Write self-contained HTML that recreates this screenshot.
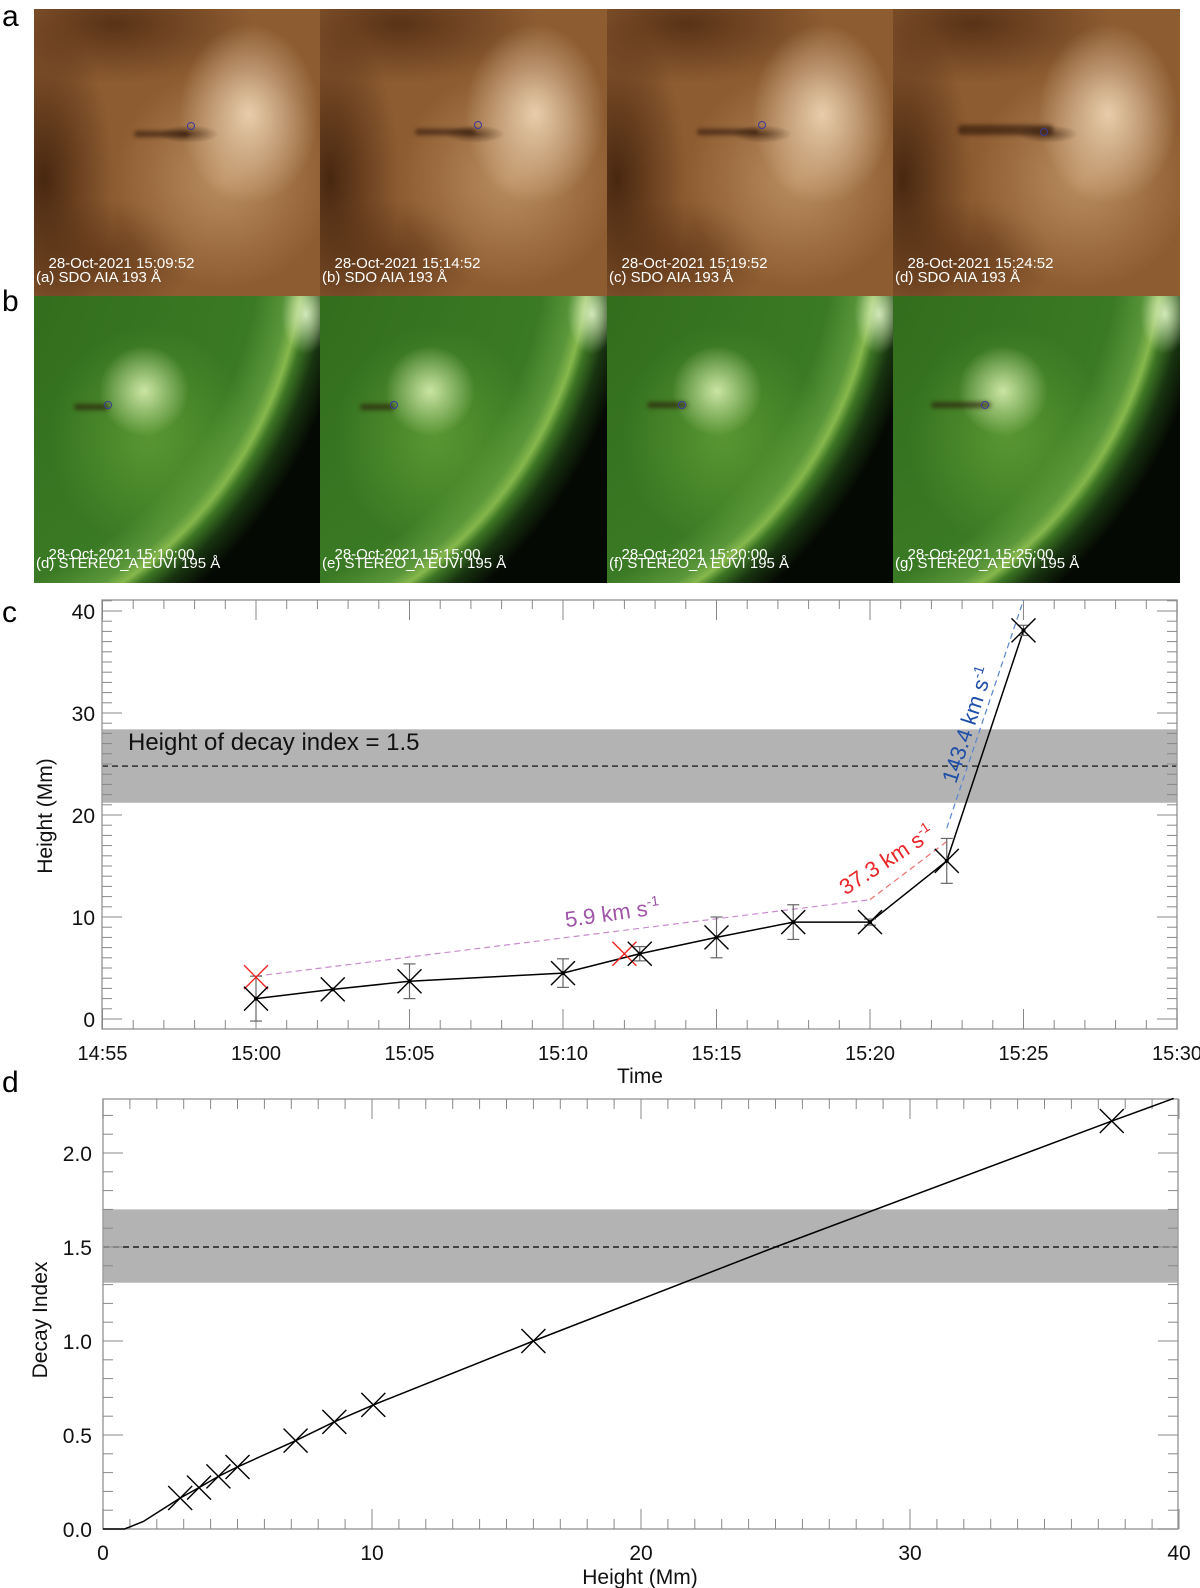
<!DOCTYPE html>
<html><head><meta charset="utf-8">
<style>
html,body{margin:0;padding:0;background:#fff;}
body{width:1200px;height:1588px;position:relative;overflow:hidden;font-family:"Liberation Sans",sans-serif;}
.pan{position:absolute;width:287px;height:287px;overflow:hidden;}
.brown{background:
 radial-gradient(ellipse 30px 9px at 155px 125px, rgba(50,25,8,0.6), rgba(50,25,8,0) 100%),
 radial-gradient(ellipse 70px 90px at 215px 105px, rgba(245,222,190,0.85), rgba(245,222,190,0) 100%),
 radial-gradient(ellipse 110px 110px at 190px 170px, rgba(215,175,128,0.6), rgba(215,175,128,0) 100%),
 radial-gradient(ellipse 70px 160px at 10px 170px, rgba(60,30,10,0.85), rgba(60,30,10,0) 100%),
 radial-gradient(ellipse 140px 60px at 80px 15px, rgba(70,36,14,0.75), rgba(70,36,14,0) 100%),
 radial-gradient(ellipse 90px 60px at 70px 250px, rgba(80,42,16,0.6), rgba(80,42,16,0) 100%),
 #8e5c31;}
.green{background:
 radial-gradient(ellipse 45px 45px at 110px 95px, rgba(225,245,185,0.85), rgba(225,245,185,0) 100%),
 radial-gradient(ellipse 100px 110px at 115px 140px, rgba(110,170,60,0.6), rgba(110,170,60,0) 100%),
 radial-gradient(ellipse 25px 40px at 272px 18px, rgba(235,250,210,0.85), rgba(235,250,210,0) 100%),
 radial-gradient(circle 470px at -150px -60px, #2c6418 0, #3b7a24 80%, #5a963a 87%, #86b84c 89.5%, #3d7624 91.5%, #183410 95%, #050903 100%);}
.lbl{position:absolute;left:2px;color:#fff;font-size:15px;line-height:14px;white-space:nowrap;}
.circ{position:absolute;width:6px;height:6px;border:1.5px solid #3a3a9a;border-radius:50%;}
.fil{position:absolute;height:6px;background:rgba(40,18,6,0.6);border-radius:4px;filter:blur(2px);}
.letter{position:absolute;left:2px;font-size:30px;color:#000;}
</style></head>
<body>
<div class="letter" style="top:0px">a</div>
<div class="letter" style="top:285px">b</div>
<div class="letter" style="top:596px">c</div>
<div class="letter" style="top:1066px">d</div>

<!-- Row a -->
<div class="pan brown" style="left:34px;top:9px">
 <div class="fil" style="left:100px;top:122px;width:55px"></div>
 <div class="circ" style="left:153px;top:113px"></div>
 <div class="lbl" style="top:248px">&nbsp;&nbsp;&nbsp;28-Oct-2021 15:09:52</div>
 <div class="lbl" style="top:262px">(a) SDO AIA 193 Å</div>
</div>
<div class="pan brown" style="left:320px;top:9px">
 <div class="fil" style="left:95px;top:120px;width:60px"></div>
 <div class="circ" style="left:154px;top:112px"></div>
 <div class="lbl" style="top:248px">&nbsp;&nbsp;&nbsp;28-Oct-2021 15:14:52</div>
 <div class="lbl" style="top:262px">(b) SDO AIA 193 Å</div>
</div>
<div class="pan brown" style="left:607px;top:9px">
 <div class="fil" style="left:90px;top:120px;width:62px"></div>
 <div class="circ" style="left:151px;top:112px"></div>
 <div class="lbl" style="top:248px">&nbsp;&nbsp;&nbsp;28-Oct-2021 15:19:52</div>
 <div class="lbl" style="top:262px">(c) SDO AIA 193 Å</div>
</div>
<div class="pan brown" style="left:893px;top:9px">
 <div class="fil" style="left:65px;top:116px;width:95px;height:10px"></div>
 <div class="circ" style="left:147px;top:119px"></div>
 <div class="lbl" style="top:248px">&nbsp;&nbsp;&nbsp;28-Oct-2021 15:24:52</div>
 <div class="lbl" style="top:262px">(d) SDO AIA 193 Å</div>
</div>

<!-- Row b -->
<div class="pan green" style="left:34px;top:296px">
 <div class="fil" style="left:40px;top:108px;width:35px"></div>
 <div class="circ" style="left:70px;top:105px"></div>
 <div class="lbl" style="top:252px">&nbsp;&nbsp;&nbsp;28-Oct-2021 15:10:00</div>
 <div class="lbl" style="top:261px">(d) STEREO_A EUVI 195 Å</div>
</div>
<div class="pan green" style="left:320px;top:296px">
 <div class="fil" style="left:40px;top:108px;width:35px"></div>
 <div class="circ" style="left:70px;top:105px"></div>
 <div class="lbl" style="top:252px">&nbsp;&nbsp;&nbsp;28-Oct-2021 15:15:00</div>
 <div class="lbl" style="top:261px">(e) STEREO_A EUVI 195 Å</div>
</div>
<div class="pan green" style="left:607px;top:296px">
 <div class="fil" style="left:40px;top:106px;width:40px"></div>
 <div class="circ" style="left:71px;top:105px"></div>
 <div class="lbl" style="top:252px">&nbsp;&nbsp;&nbsp;28-Oct-2021 15:20:00</div>
 <div class="lbl" style="top:261px">(f) STEREO_A EUVI 195 Å</div>
</div>
<div class="pan green" style="left:893px;top:296px">
 <div class="fil" style="left:38px;top:106px;width:60px"></div>
 <div class="circ" style="left:88px;top:105px"></div>
 <div class="lbl" style="top:252px">&nbsp;&nbsp;&nbsp;28-Oct-2021 15:25:00</div>
 <div class="lbl" style="top:261px">(g) STEREO_A EUVI 195 Å</div>
</div>

<svg id="charts" width="1200" height="1588" style="position:absolute;left:0;top:0" xmlns="http://www.w3.org/2000/svg" font-family="Liberation Sans, sans-serif">
</svg>

<script>
// ---------- Panel c data ----------
const cTimes = [0, 2.5, 5, 10, 12.5, 15, 17.5, 20, 22.5, 25];
const cHeights = [2.0, 2.9, 3.7, 4.5, 6.4, 8.0, 9.5, 9.5, 15.5, 38.1];
const cErrors = [2.2, 0, 1.7, 1.4, 0.7, 2.0, 1.7, 0.3, 2.2, 0.5];
const cRedTimes = [0, 12];
const cRedHeights = [4.1, 6.4];
const cFitPurpleT = [0, 20];
const cFitPurpleH = [4.2, 11.7];
const cFitRedT = [20, 22.5];
const cFitRedH = [11.7, 17.4];
const cFitBlueT = [22.5, 25];
const cFitBlueH = [18.7, 41.1];
const cBand = [21.2, 28.4];
const cBandMid = 24.8;
const cXTickLabels = ['14:55','15:00','15:05','15:10','15:15','15:20','15:25','15:30'];
const cXTickVals = [-5, 0, 5, 10, 15, 20, 25, 30];
const cYTickVals = [0, 10, 20, 30, 40];

// ---------- Panel d data ----------
const dHeights = [2.87, 3.57, 4.29, 5.0, 7.16, 8.6, 10.05, 16.0, 37.5];
const dIndex = [0.165, 0.22, 0.28, 0.33, 0.47, 0.57, 0.66, 1.0, 2.17];
const dCurveH = [0, 0.8, 1.5, 2.87, 3.57, 4.29, 5.0, 7.16, 8.6, 10.05, 16.0, 25.0, 37.5, 39.8];
const dCurveN = [0, 0, 0.04, 0.165, 0.22, 0.28, 0.33, 0.47, 0.57, 0.66, 1.0, 1.5, 2.17, 2.29];
const dBand = [1.31, 1.70];
const dBandMid = 1.5;
const dXTickVals = [0, 10, 20, 30, 40];
const dYTickVals = [0.0, 0.5, 1.0, 1.5, 2.0];
const dYTickLabels = ['0.0', '0.5', '1.0', '1.5', '2.0'];

const NS = 'http://www.w3.org/2000/svg';
const svg = document.getElementById('charts');
function mk(tag, attrs, parent) {
  const e = document.createElementNS(NS, tag);
  for (const k in attrs) e.setAttribute(k, attrs[k]);
  (parent || svg).appendChild(e);
  return e;
}

const CX0 = 102, CX1 = 1177, CY0 = 600, CY1 = 1029;
const xc = t => 256 + t * 30.7;
const yc = h => 1019 - h * 10.2;
const DX0 = 103, DX1 = 1178, DY0 = 1099, DY1 = 1529;
const xd = h => 103 + h * 26.9;
const yd = v => 1529 - v * 188;

// ================= Panel C =================
const gc = mk('g', {});


const bandC = mk('rect', {x: CX0, y: yc(cBand[1]), width: CX1 - CX0, height: yc(cBand[0]) - yc(cBand[1]), fill: '#b3b3b4'}, gc);


const midC = mk('line', {x1: CX0, x2: CX1, y1: yc(cBandMid), y2: yc(cBandMid), stroke: '#000', 'stroke-width': 1.2, 'stroke-dasharray': '6,4'}, gc);


const frC = mk('rect', {x: CX0, y: CY0, width: CX1 - CX0, height: CY1 - CY0, fill: 'none', stroke: '#a0a0a0', 'stroke-width': 1.5}, gc);


for (let m = -5; m <= 30; m++) {
  const major = m % 5 === 0;
  const L = major ? 20 : 9;
  mk('line', {x1: xc(m), x2: xc(m), y1: CY1, y2: CY1 - L, stroke: '#888', 'stroke-width': 1}, gc);
  mk('line', {x1: xc(m), x2: xc(m), y1: CY0, y2: CY0 + L, stroke: '#888', 'stroke-width': 1}, gc);
}
for (let h = 0; h <= 41; h++) {
  const major = h % 10 === 0;
  const L = major ? 20 : 10;
  mk('line', {x1: CX0, x2: CX0 + L, y1: yc(h), y2: yc(h), stroke: '#888', 'stroke-width': 1}, gc);
  mk('line', {x1: CX1, x2: CX1 - L, y1: yc(h), y2: yc(h), stroke: '#888', 'stroke-width': 1}, gc);
}
cXTickVals.forEach((v, i) => {
  const t = mk('text', {x: xc(v), y: 1060, 'font-size': 20, 'text-anchor': 'middle', fill: '#111'}, gc);
  t.textContent = cXTickLabels[i];
  
  
});
cYTickVals.forEach(v => {
  const t = mk('text', {x: 95, y: yc(v) + 8, 'font-size': 21, 'text-anchor': 'end', fill: '#111'}, gc);
  t.textContent = String(v);
  
  
});
const xtC = mk('text', {x: 640, y: 1083, 'font-size': 21, 'text-anchor': 'middle', fill: '#111'}, gc);
xtC.textContent = 'Time';


const ytC = mk('text', {x: 0, y: 0, 'font-size': 21, 'text-anchor': 'middle', fill: '#111', transform: 'translate(52,816) rotate(-90)'}, gc);
ytC.textContent = 'Height (Mm)';


const bt = mk('text', {x: 128, y: 750, 'font-size': 24, fill: '#111'}, gc);
bt.textContent = 'Height of decay index = 1.5';



function fit(T, H, color, name) {
  const l = mk('line', {x1: xc(T[0]), y1: yc(H[0]), x2: xc(T[1]), y2: Math.max(CY0, yc(H[1])), stroke: color, 'stroke-width': 1.2, 'stroke-dasharray': '6,4'}, gc);
  
  
}
fit(cFitPurpleT, cFitPurpleH, '#c98ccf', 'fit-line-slow');
fit(cFitRedT, cFitRedH, '#f07070', 'fit-line-medium');
fit(cFitBlueT, cFitBlueH, '#5a85d0', 'fit-line-fast');

const a1 = mk('text', {x: 0, y: 0, 'font-size': 22, fill: '#a055a8', transform: `translate(${xc(10.1)},${yc(9.0)}) rotate(-8)`}, gc);
a1.innerHTML = '5.9 km s<tspan dy="-9" font-size="14">-1</tspan>';


const a2 = mk('text', {x: 0, y: 0, 'font-size': 22, fill: '#e8262a', transform: `translate(${xc(19.2)},${yc(12.1)}) rotate(-33)`}, gc);
a2.innerHTML = '37.3 km s<tspan dy="-9" font-size="14">-1</tspan>';


const a3 = mk('text', {x: 0, y: 0, 'font-size': 22, fill: '#1f4fa8', transform: `translate(${xc(22.8)},${yc(23.0)}) rotate(-72)`}, gc);
a3.innerHTML = '143.4 km s<tspan dy="-9" font-size="14">-1</tspan>';



const ptsC = cTimes.map((t, i) => xc(t) + ',' + yc(cHeights[i])).join(' ');
const plC = mk('polyline', {points: ptsC, fill: 'none', stroke: '#000', 'stroke-width': 1.5}, gc);


cTimes.forEach((t, i) => {
  if (cErrors[i] <= 0) return;
  const x = xc(t), y1 = yc(cHeights[i] - cErrors[i]), y2 = yc(cHeights[i] + cErrors[i]);
  const g = mk('g', {stroke: '#666', 'stroke-width': 1.2}, gc);
  
  
  mk('line', {x1: x, x2: x, y1: y1, y2: y2}, g);
  mk('line', {x1: x - 6, x2: x + 6, y1: y1, y2: y1}, g);
  mk('line', {x1: x - 6, x2: x + 6, y1: y2, y2: y2}, g);
});
function cross(x, y, r, color, parent, name) {
  const g = mk('g', {stroke: color, 'stroke-width': 1.4}, parent);
  
  
  mk('line', {x1: x - r, y1: y - r, x2: x + r, y2: y + r}, g);
  mk('line', {x1: x - r, y1: y + r, x2: x + r, y2: y - r}, g);
}
cRedTimes.forEach((t, i) => cross(xc(t), yc(cRedHeights[i]), 12, '#ee2222', gc, 'red-marker'));
cTimes.forEach((t, i) => {
  cross(xc(t), yc(cHeights[i]), 12, '#000', gc, 'height-marker');
  mk('circle', {cx: xc(t), cy: yc(cHeights[i]), r: 2, fill: '#000'}, gc);
});

// ================= Panel D =================
const gd = mk('g', {});


const bandD = mk('rect', {x: DX0, y: yd(dBand[1]), width: DX1 - DX0, height: yd(dBand[0]) - yd(dBand[1]), fill: '#b3b3b4'}, gd);


const midD = mk('line', {x1: DX0, x2: DX1, y1: yd(dBandMid), y2: yd(dBandMid), stroke: '#000', 'stroke-width': 1.2, 'stroke-dasharray': '6,4'}, gd);


const frD = mk('rect', {x: DX0, y: DY0, width: DX1 - DX0, height: DY1 - DY0, fill: 'none', stroke: '#a0a0a0', 'stroke-width': 1.5}, gd);


for (let h = 0; h <= 40; h++) {
  const major = h % 10 === 0;
  const L = major ? 20 : 10;
  mk('line', {x1: xd(h), x2: xd(h), y1: DY1, y2: DY1 - L, stroke: '#888', 'stroke-width': 1}, gd);
  mk('line', {x1: xd(h), x2: xd(h), y1: DY0, y2: DY0 + L, stroke: '#888', 'stroke-width': 1}, gd);
}
for (let k = 0; k <= 22; k++) {
  const v = k / 10;
  const major = k % 5 === 0;
  const L = major ? 20 : 10;
  mk('line', {x1: DX0, x2: DX0 + L, y1: yd(v), y2: yd(v), stroke: '#888', 'stroke-width': 1}, gd);
  mk('line', {x1: DX1, x2: DX1 - L, y1: yd(v), y2: yd(v), stroke: '#888', 'stroke-width': 1}, gd);
}
dXTickVals.forEach(v => {
  const t = mk('text', {x: xd(v), y: 1560, 'font-size': 21, 'text-anchor': 'middle', fill: '#111'}, gd);
  t.textContent = String(v);
  
  
});
dYTickVals.forEach((v, i) => {
  const t = mk('text', {x: 92, y: yd(v) + 8, 'font-size': 21, 'text-anchor': 'end', fill: '#111'}, gd);
  t.textContent = dYTickLabels[i];
  
  
});
const xtD = mk('text', {x: 640, y: 1584, 'font-size': 21, 'text-anchor': 'middle', fill: '#111'}, gd);
xtD.textContent = 'Height (Mm)';


const ytD = mk('text', {x: 0, y: 0, 'font-size': 21, 'text-anchor': 'middle', fill: '#111', transform: 'translate(47,1320) rotate(-90)'}, gd);
ytD.textContent = 'Decay Index';


const ptsD = dCurveH.map((h, i) => xd(h) + ',' + yd(dCurveN[i])).join(' ');
const plD = mk('polyline', {points: ptsD, fill: 'none', stroke: '#000', 'stroke-width': 1.5}, gd);


dHeights.forEach((h, i) => cross(xd(h), yd(dIndex[i]), 12, '#000', gd, 'decay-marker'));
</script>
</body></html>
